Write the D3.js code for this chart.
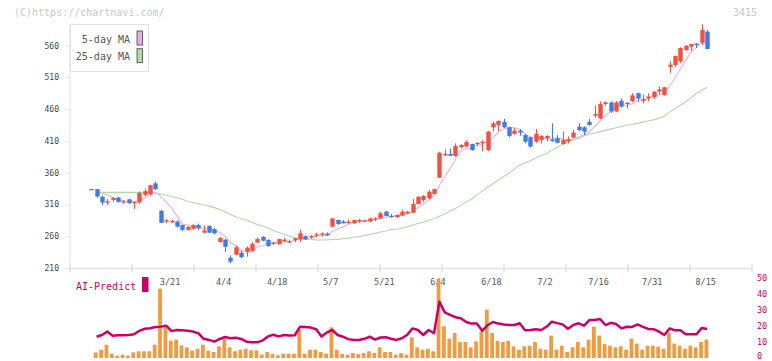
<!DOCTYPE html>
<html>
<head>
<meta charset="utf-8">
<script src="https://cdn.jsdelivr.net/npm/d3@7"></script>
<style>
body{margin:0;background:#fff}
svg{display:block}
text{font-family:"DejaVu Sans Mono","Liberation Mono",monospace}
</style>
</head>
<body>
<svg width="772" height="361"></svg>
<script>
const dates = ["2/27","2/28","3/3","3/4","3/5","3/6","3/7","3/10","3/11","3/12","3/13","3/14","3/17","3/18","3/19","3/21","3/24","3/25","3/26","3/27","3/28","3/31",
  "4/1","4/2","4/3","4/4","4/7","4/8","4/9","4/10","4/11","4/14","4/15","4/16","4/17","4/18","4/21","4/22","4/23","4/24","4/25","4/28","4/30",
  "5/1","5/2","5/7","5/8","5/9","5/12","5/13","5/14","5/15","5/16","5/19","5/20","5/21","5/22","5/23","5/26","5/27","5/28","5/29","5/30",
  "6/2","6/3","6/4","6/5","6/6","6/9","6/10","6/11","6/12","6/13","6/16","6/17","6/18","6/19","6/20","6/23","6/24","6/25","6/26","6/27","6/30",
  "7/1","7/2","7/3","7/4","7/7","7/8","7/9","7/10","7/11","7/14","7/15","7/16","7/17","7/18","7/22","7/23","7/24","7/25","7/28","7/29","7/30","7/31",
  "8/1","8/4","8/5","8/6","8/7","8/8","8/12","8/13","8/14","8/15"]

const open = [333.8,334,322,313,317,321,313,318,312,313,
  325,326,343,300,283,282.5,283,277.5,270,271.5,
  277.5,265.5,276,271,251,254.5,226,231,234,235.5,
  237,250,259,254,248,247.3,253,251,253.6,255,
  260,258.3,261.4,262.4,264,275,285.5,283,280.5,280.4,
  283.6,284,283,287,288,298.6,292,290,292.3,296,
  297,310.7,317,319.6,326.4,352,387.3,389.3,386.2,400,
  401,405,405,407,395.6,431.3,435,440,431.3,421,
  426,419,415.5,408.7,411.4,414,412.3,414,405,409.7,
  415,432.3,431.3,440,449.5,445.5,468,470.5,456.3,473,
  470,472.5,485,473.3,477,478.7,487.5,482,526.5,529.3,
  535,553,558.2,563,564.4,581.8]
const high = [334.5,334,324,318.5,322,322,317,319,315,330,
  335,341,346,301.5,287,286,285,278,276,279,
  280,277,277,273,259,256,230,245,237.5,244,
  251,258,260,255.5,251,256,257.5,254.5,258,270.5,
  261,261.7,265.6,266,266,288.5,286,285.5,285.5,286,
  287,286,289,290,298,300,295,294.5,301,299.5,
  318.5,323,324.5,332.6,335,393,396.5,398,406,405,
  411,405.7,408,411,426,440.7,442,444.6,432,430,
  428.8,421,417,428.8,419,419,437.6,419,424.5,417,
  428,438,433,444.5,465.5,472,472,472,472.5,476.5,
  470.5,485,486,483,485,488,495.5,495,535,544,
  557,561,562.4,564,593.4,584.4]
const low = [333.5,320.5,309,309,314,313,311,311,303,311,
  323,324,333,281,281,281,274,268.5,269,271,
  270,265,265,263,250,235.5,217.5,230,225.5,228,
  236,249,252,243.5,246,247,250.5,249.5,251,251,
  254,256,258.6,260,261,274,278,280,280,279,
  281,282,282,284,287,291,289,289,291.5,295,
  296,310,314,318,326,352,386,386,385,398,
  401,394.5,402,393.6,394,425,425,430,416,420,
  418,406,399.5,407,406,409,408.7,406,404,406,
  414,425,419,434,446.5,444,465,454,455,462,
  461,471,472,469,472,476,483,481,517,526.5,
  532.3,551.7,551.7,556,561,554.5]
const close = [334.2,322.5,313,315,320,314,315,312,314,328,
  331,340,334,281,285,284,275,270,274.5,277.5,
  272.5,269,265.5,264.5,257,243.5,220,242.5,227,242,
  247.7,255.5,253,244.6,250,255.6,254.5,252,256.7,264.5,
  255,260.3,263,264.5,261.4,288,279.2,280.4,283,285.5,
  285.5,285,288,288,296,291.8,291,293.4,298.6,298.6,
  310.7,322,323.3,330,334,391.4,389.3,386.7,401.9,403.5,
  408,395.6,407,408.7,424.5,437.6,441.3,431.3,417.6,426,
  423,408.7,401,421,417.6,417.6,409.7,407,411.4,412.3,
  423,427,424.5,435,452,468,470.5,456.3,470.5,464,
  469,481.5,476.5,476,479.7,487.5,491,494.3,529.7,543.5,
  556,559.5,562.4,562,584.4,554.5]

const ma5 = [null,null,328,325,320.9,316.9,315.4,315.2,315.0,316.6,
  320.0,325.0,329.4,322.8,314.2,304.8,291.8,279.0,277.7,276.2,
  273.9,272.7,271.8,269.8,265.7,259.9,250.1,245.5,238.0,235.0,
  235.8,242.9,245.0,248.6,250.2,251.7,251.5,251.3,253.8,256.7,
  256.5,257.7,259.9,261.5,260.8,267.4,271.2,274.7,278.4,283.2,
  282.7,283.9,285.4,286.4,288.5,289.8,291.0,292.0,294.2,294.7,
  298.5,304.7,310.6,316.9,324.0,340.1,353.6,366.3,380.7,394.6,
  397.9,399.1,403.2,404.6,408.8,414.7,423.8,428.7,430.5,430.8,
  427.8,421.3,415.3,415.9,414.3,413.2,413.4,414.6,412.7,411.6,
  412.7,416.1,419.6,424.4,432.3,441.3,450.0,456.4,463.5,465.9,
  466.1,468.3,472.3,473.4,476.5,480.2,482.1,485.7,496.4,509.2,
  522.9,536.6,550.2,556.7,564.9,564.6]
const ma25 = [null,329,329,329,329,329,329,329,329,329,
  328.8,328.5,328,326.5,324.5,322.5,320.5,318,315,313,
  311,309,307.5,305,302,298,294,290.5,287.5,285.5,
  282,278.5,276,273,269,266,263,260,257,256,
  255.5,254.8,254.3,254,254.3,254.8,255.1,256,257,258.3,
  259.3,261,262.5,264.5,266.5,268.2,270.5,271,272.5,275,
  277.6,280,282,285,288,291.5,295,299.5,303.5,308.5,
  314,318.5,325,331,337,343,348.5,354,359,365.5,
  372,375,379,383,387,390.4,395,400,404.5,408.5,
  411,414,417.5,420.5,422.5,424.5,426.5,428.5,430.5,432.5,
  434.5,436,437.5,439.5,441.5,443,445.5,449,455.5,461,
  466,471.6,478,484.8,489.5,494.3]

const volume = [null,3.5,5.2,8.3,2.7,1.5,2.1,1.5,3.5,4.2,
  4.2,4.2,8.3,43.3,19.2,10.8,11.5,7.9,6.7,4.6,
  5.8,8.3,4.6,3.75,7.3,12.1,6.7,4.2,5.2,5.8,
  4.8,4.8,2.1,3.75,2.5,1.7,2.7,2.7,2.7,17.7,
  2.7,5.2,5.2,3.75,2.7,19.2,5.2,2.5,2.1,3.1,
  2.5,3.1,4.2,3.1,6.7,3.75,3.75,2.1,3.1,2.1,
  12.9,6.7,5.2,5.8,4.2,49.6,19.8,12.1,15.6,10,
  10,6.7,10.4,16.7,30.2,15.6,10.8,10,10.8,7.3,
  5.2,7.3,7.7,10,5.8,5.2,14,5.2,7.7,3.75,
  6.7,10,6.7,11.5,19.6,14,8.75,7.7,6.7,7.3,
  5.2,12.1,9,5.2,7.7,7.7,7.1,5.8,15.8,9,
  7.7,5.8,7.7,6.7,10,11.5]
const aiPredict = [null,13.3,14.4,16.5,13.9,14.2,14.2,14.4,14.8,17,
  18.3,18.6,19.4,19.6,20.2,16.8,17.5,17.3,17,16.5,
  15.5,12,11.3,10.2,11.9,13.1,12.3,12.7,11.9,10.2,
  9.8,9.8,11,13.5,14.5,13.5,14.4,14,14.2,19.6,
  19.3,19,18,13.5,16,17.5,14.4,13.3,11.8,11.3,
  11.3,12,13.3,11.5,12.8,13,12,11.3,12.3,14.5,
  18.5,17.5,14.4,17.5,15.5,35.2,28.5,27,25.5,24.8,
  22.5,21.5,21.5,17,20.5,22.5,21.5,21,20.6,20.6,
  21.7,17.3,17.5,18,17.5,19.5,22.7,21.8,21,18.3,
  20.6,21.7,20.2,23.7,23.7,24.4,20.6,22,21.2,18.5,
  19.5,19.4,21,19.5,18.2,18,16.5,14.4,18.5,17.3,
  17.3,14.8,14.8,14.8,18.8,18.1]

const dateLabels = ["3/21","4/4","4/18","5/7","5/21","6/4","6/18","7/2","7/16","7/31","8/15"]
const priceTicks = [210,260,310,360,410,460,510,560]
const subTicks = [0,10,20,30,40,50]

const colUp = "#f05242"
const colDown = "#3f7be6"
const colVol = "#f29a40"
const colAi = "#cc0066"
const colMa5 = "#e6aee8"
const colMa25 = "#b0d9a4"
const axisCol = "#e2e2e2"

const svg = d3.select('svg')

const x = d3.scalePoint().domain(dates).range([91.2, 707.2])
const y = d3.scaleLinear().domain([210, 560]).range([268, 45.5])
const yv = d3.scaleLinear().domain([0, 50]).range([358, 278])
const xFrame = d3.scaleLinear().domain([0, 11]).range([70, 752])

// watermark + code
svg.append('text').attr('x', 14).attr('y', 15.5).attr('font-size', '10px').attr('fill', '#c8c8c8')
  .text('(C)https://chartnavi.com/')
svg.append('text').attr('x', 757).attr('y', 15.5).attr('font-size', '10px').attr('fill', '#c8c8c8')
  .attr('text-anchor', 'end').text('3415')

// frame
svg.append('line').attr('x1', 70).attr('x2', 70).attr('y1', 24).attr('y2', 268)
  .style('stroke', axisCol)
svg.append('line').attr('x1', 70).attr('x2', 752).attr('y1', 268.5).attr('y2', 268.5)
  .style('stroke', axisCol).style('stroke-width', 1.5)
svg.append('g').selectAll('line')
  .data(d3.range(0, 12))
  .join('line')
  .attr('x1', d => xFrame(d)).attr('x2', d => xFrame(d))
  .attr('y1', 264).attr('y2', 272)
  .style('stroke', axisCol).style('stroke-width', 1.5)

// price axis
const yAxis = svg.append('g').attr('transform', 'translate(70,0)')
  .call(d3.axisLeft(y).tickValues(priceTicks).tickSize(5).tickPadding(6).tickSizeOuter(0))
yAxis.select('.domain').remove()
yAxis.selectAll('line').style('stroke', axisCol)
yAxis.selectAll('text').attr('font-size', '8px').attr('fill', '#444').attr('font-family', null)

// date labels
svg.append('g').selectAll('text')
  .data(dateLabels)
  .join('text')
  .attr('x', d => x(d) - 1.5)
  .attr('y', 285)
  .attr('text-anchor', 'middle')
  .attr('font-size', '8.5px')
  .attr('fill', '#555')
  .text(d => d)

// moving averages
const maLine = arr => d3.line()
  .defined((d, i) => arr[i] != null)
  .x((d, i) => x(dates[i]))
  .y((d, i) => y(arr[i]))(arr)

svg.append('path').attr('d', maLine(ma25)).attr('fill', 'none')
  .style('stroke', colMa25).style('stroke-width', 1.1)
svg.append('path').attr('d', maLine(ma5)).attr('fill', 'none')
  .style('stroke', colMa5).style('stroke-width', 1.1)

// candles
const candles = dates.map((d, i) => ({d: d, o: open[i], h: high[i], l: low[i], c: close[i]}))
const cw = 4.4
const cg = svg.append('g')
cg.selectAll('line')
  .data(candles)
  .join('line')
  .attr('x1', d => Math.round(x(d.d)) + 0.5).attr('x2', d => Math.round(x(d.d)) + 0.5)
  .attr('y1', d => y(d.h)).attr('y2', d => y(d.l))
  .style('stroke', d => d.c >= d.o ? colUp : colDown)
  .style('stroke-width', 1.1)
cg.selectAll('rect')
  .data(candles)
  .join('rect')
  .attr('x', d => Math.round(x(d.d)) + 0.5 - cw / 2)
  .attr('width', cw)
  .attr('y', d => y(Math.max(d.o, d.c)))
  .attr('height', d => Math.max(1.3, Math.abs(y(d.o) - y(d.c))))
  .style('fill', d => d.c >= d.o ? colUp : colDown)

// legend
const lg = svg.append('g')
lg.append('rect').attr('x', 70.5).attr('y', 24.5).attr('width', 78).attr('height', 47)
  .style('fill', '#fff').style('stroke', '#e0e0e0')
const legendItems = [["5-day MA", colMa5, 42.5, 31], ["25-day MA", colMa25, 60, 48.7]]
legendItems.forEach(item => {
  lg.append('text').attr('x', 130).attr('y', item[2]).attr('text-anchor', 'end')
    .attr('font-size', '10px').attr('fill', '#555').text(item[0])
  lg.append('rect').attr('x', 137).attr('y', item[3]).attr('width', 5.5).attr('height', 14)
    .style('fill', item[1]).style('stroke', '#555').style('stroke-width', 0.9)
})

// volume bars
const bars = dates.map((d, i) => ({d: d, v: volume[i]})).filter(d => d.v != null)
svg.append('g').selectAll('rect')
  .data(bars)
  .join('rect')
  .attr('x', d => x(d.d) - 0.8 - 1.9)
  .attr('width', 3.8)
  .attr('y', d => yv(d.v))
  .attr('height', d => yv(0) - yv(d.v))
  .style('fill', colVol)

// AI predict line
const aiLine = d3.line()
  .defined((d, i) => aiPredict[i] != null)
  .x((d, i) => x(dates[i]))
  .y((d, i) => yv(aiPredict[i]))
svg.append('path').attr('d', aiLine(aiPredict)).attr('fill', 'none')
  .style('stroke', colAi).style('stroke-width', 2.5).style('stroke-linejoin', 'round')

// right axis
const rAxis = svg.append('g').attr('transform', 'translate(756,0)')
  .call(d3.axisRight(yv).tickValues(subTicks).tickSize(0).tickPadding(1))
rAxis.select('.domain').remove()
rAxis.selectAll('text').attr('font-size', '8.5px').attr('fill', colAi).attr('font-family', null)
  .attr('dy', d => d === 0 ? '0.1em' : '0.32em')

// AI legend
svg.append('text').attr('x', 76).attr('y', 290).attr('font-size', '10px').attr('fill', colAi)
  .text('AI-Predict')
svg.append('rect').attr('x', 142).attr('y', 277).attr('width', 6.5).attr('height', 15)
  .style('fill', colAi)
</script>
</body>
</html>
